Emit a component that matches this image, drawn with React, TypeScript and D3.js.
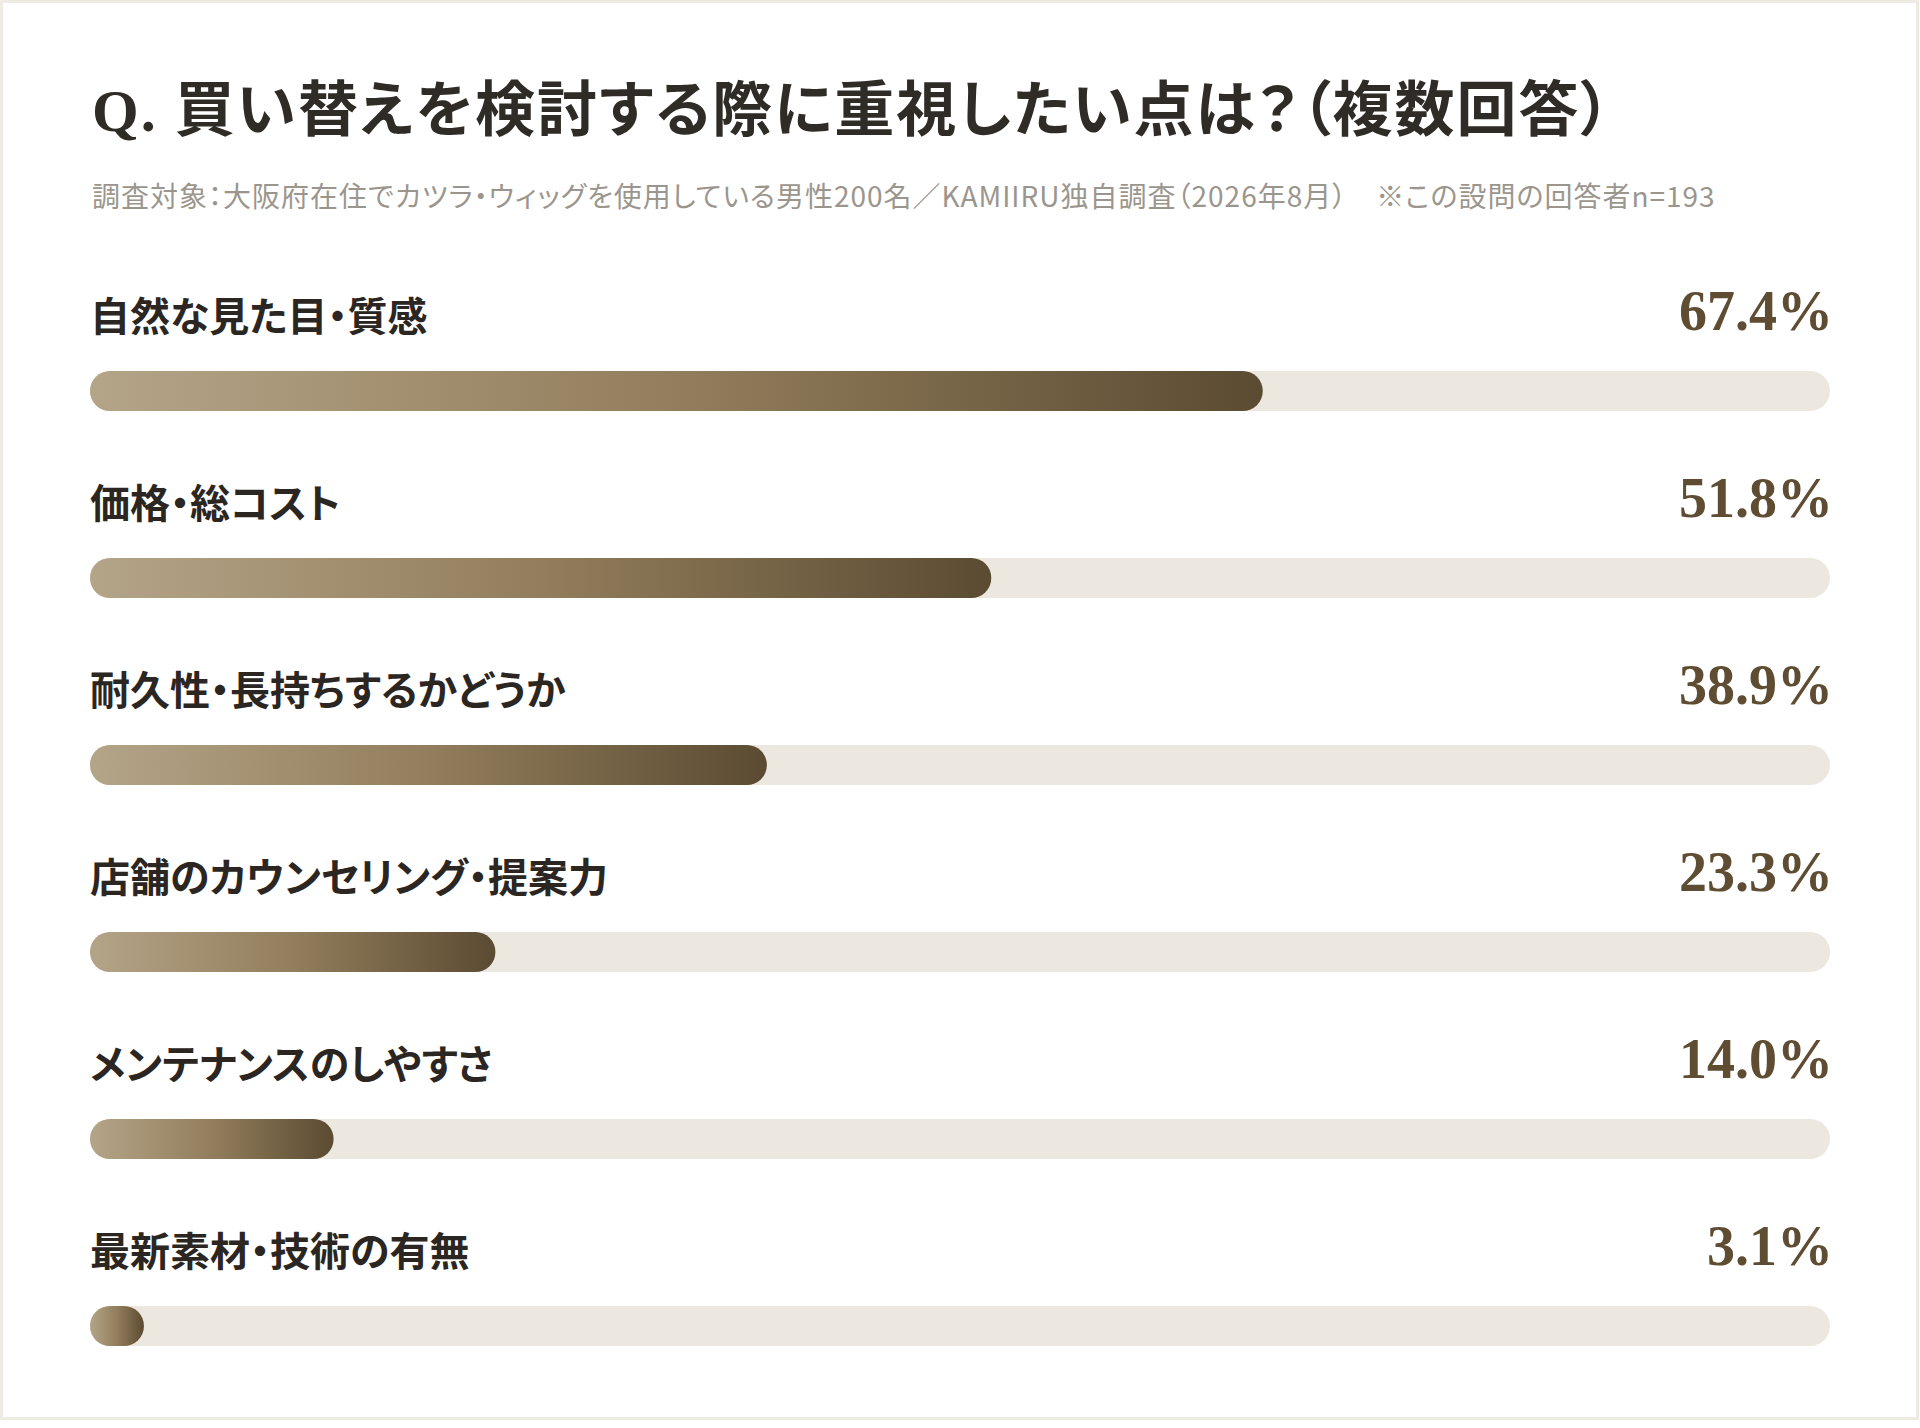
import { useEffect, useRef } from 'react';
import * as d3 from 'd3';

const categories = [
  '自然な見た目・質感',
  '価格・総コスト',
  '耐久性・長持ちするかどうか',
  '店舗のカウンセリング・提案力',
  'メンテナンスのしやすさ',
  '最新素材・技術の有無',
];
const values = [67.4, 51.8, 38.9, 23.3, 14.0, 3.1];

const title = 'Q. 買い替えを検討する際に重視したい点は？（複数回答）';
const subtitle =
  '調査対象：大阪府在住でカツラ・ウィッグを使用している男性200名／KAMIIRU独自調査（2026年8月）　※この設問の回答者n=193';

const W = 1920;
const H = 1428;

export default function App() {
  const svgRef = useRef<SVGSVGElement>(null);

  useEffect(() => {
    if (!svgRef.current) return;
    const svg = d3.select(svgRef.current);
    svg.selectAll('*').remove();

    const sans = '"Noto Sans CJK JP", "Noto Sans", sans-serif';
    const serif = '"Liberation Serif", "Noto Sans CJK JP", serif';

    // card
    svg.append('rect').attr('width', W).attr('height', H).attr('fill', '#ffffff');
    svg.append('rect')
      .attr('x', 1.5).attr('y', 1.5)
      .attr('width', 1916).attr('height', 1417)
      .attr('fill', '#ffffff')
      .attr('stroke', '#eeebe3')
      .attr('stroke-width', 3);

    const defs = svg.append('defs');
    const grad = defs.append('linearGradient')
      .attr('id', 'barGrad')
      .attr('x1', '0%').attr('x2', '100%')
      .attr('y1', '0%').attr('y2', '0%');
    grad.append('stop').attr('offset', '0%').attr('stop-color', '#b4a488');
    grad.append('stop').attr('offset', '50%').attr('stop-color', '#927e5c');
    grad.append('stop').attr('offset', '100%').attr('stop-color', '#5b4b32');

    svg.append('text')
      .attr('x', 92).attr('y', 111)
      .attr('dominant-baseline', 'central')
      .style('font-family', serif)
      .style('font-weight', 700)
      .style('font-size', '60px')
      .style('letter-spacing', '2px')
      .style('font-feature-settings', '"palt"')
      .attr('fill', '#2f2b26')
      .text(title);

    svg.append('text')
      .attr('x', 92).attr('y', 195)
      .attr('dominant-baseline', 'central')
      .style('font-family', sans)
      .style('font-size', '28px')
      .style('letter-spacing', '1px')
      .style('font-feature-settings', '"palt"')
      .attr('fill', '#9b968d')
      .text(subtitle);

    const x = d3.scaleLinear().domain([0, 100]).range([90, 1830]);
    const y = d3.scalePoint<string>().domain(categories).range([391, 391 + 5 * 187]);
    const barH = 40;

    const rows = svg.append('g')
      .selectAll('g')
      .data(categories)
      .enter().append('g')
      .attr('transform', d => `translate(0,${y(d)})`);

    rows.append('rect')
      .attr('x', x(0))
      .attr('y', -barH / 2)
      .attr('width', x(100) - x(0))
      .attr('height', barH)
      .attr('rx', barH / 2)
      .attr('fill', '#ede8df');

    rows.append('rect')
      .attr('x', x(0))
      .attr('y', -barH / 2)
      .attr('width', (_, i) => x(values[i]) - x(0))
      .attr('height', barH)
      .attr('rx', barH / 2)
      .attr('fill', 'url(#barGrad)');

    rows.append('text')
      .attr('x', x(0))
      .attr('y', -77)
      .attr('dominant-baseline', 'central')
      .style('font-family', sans)
      .style('font-weight', 700)
      .style('font-size', '40px')
      .style('font-feature-settings', '"palt"')
      .attr('fill', '#2b2622')
      .text(d => d);

    rows.append('text')
      .attr('x', x(100) + 3)
      .attr('y', -61.5)
      .attr('text-anchor', 'end')
      .style('font-family', serif)
      .style('font-weight', 700)
      .style('font-size', '56px')
      .attr('fill', '#5f4d33')
      .text((_, i) => `${values[i].toFixed(1)}%`);
  }, []);

  return (
    <>
      <style>{'body{margin:0}'}</style>
      <svg ref={svgRef} width={W} height={H} style={{ display: 'block' }}></svg>
    </>
  );
}
